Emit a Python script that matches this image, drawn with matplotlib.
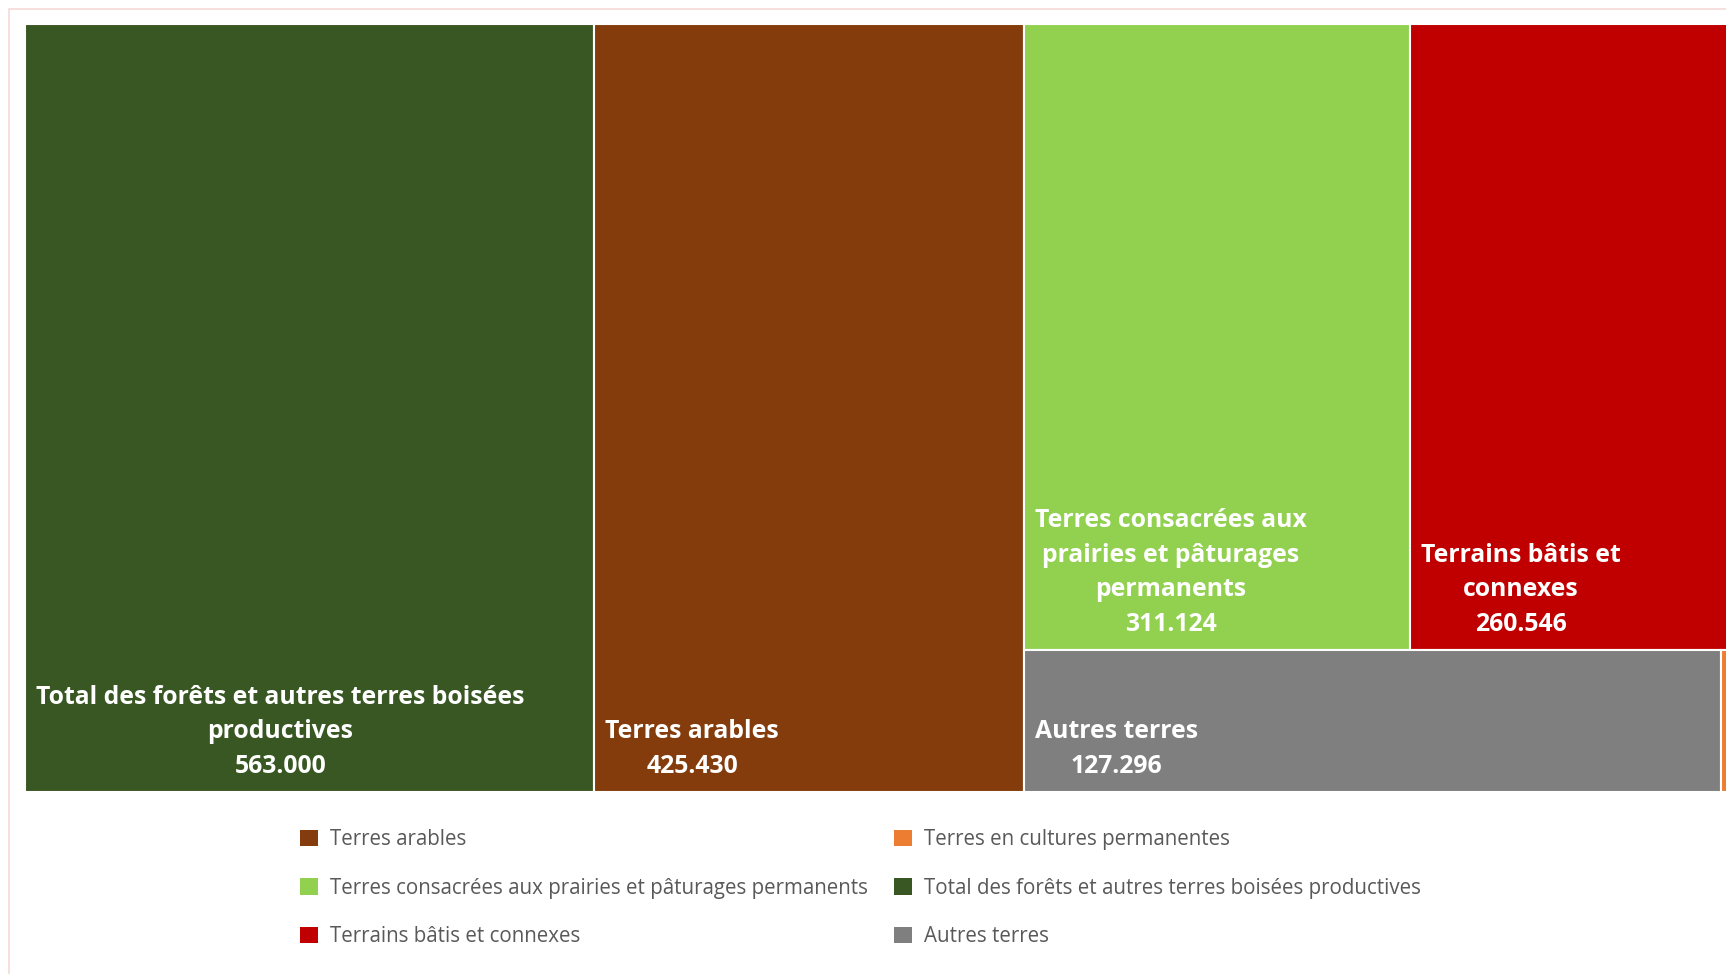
import matplotlib
matplotlib.use("Agg")
import matplotlib.pyplot as plt
from matplotlib.patches import Rectangle, Patch

# Land use categories (hectares)
categories = [
    "Total des forêts et autres terres boisées productives",
    "Terres arables",
    "Terres consacrées aux prairies et pâturages permanents",
    "Terrains bâtis et connexes",
    "Autres terres",
    "Terres en cultures permanentes",
]
values = [563000, 425430, 311124, 260546, 127296, 2200]
colors = ["#385723", "#843c0c", "#92d050", "#c00000", "#7f7f7f", "#ed7d31"]

# Wrapped labels shown inside the tiles
tile_labels = [
    "Total des forêts et autres terres boisées\nproductives",
    "Terres arables",
    "Terres consacrées aux\nprairies et pâturages\npermanents",
    "Terrains bâtis et\nconnexes",
    "Autres terres",
    "",
]

# Legend order (two columns, filled top-down)
legend_order = [
    "Terres arables",
    "Terres consacrées aux prairies et pâturages permanents",
    "Terrains bâtis et connexes",
    "Terres en cultures permanentes",
    "Total des forêts et autres terres boisées productives",
    "Autres terres",
]


# ---- squarified treemap layout ----
def _normalize(sizes, dx, dy):
    total = float(sum(sizes))
    return [s * dx * dy / total for s in sizes]


def _layoutrow(sizes, x, y, dx, dy):
    width = sum(sizes) / dy
    rects = []
    for s in sizes:
        rects.append((x, y, width, s / width))
        y += s / width
    return rects


def _layoutcol(sizes, x, y, dx, dy):
    height = sum(sizes) / dx
    rects = []
    for s in sizes:
        rects.append((x, y, s / height, height))
        x += s / height
    return rects


def _layout(sizes, x, y, dx, dy):
    return _layoutrow(sizes, x, y, dx, dy) if dx >= dy else _layoutcol(sizes, x, y, dx, dy)


def _leftover(sizes, x, y, dx, dy):
    covered = sum(sizes)
    if dx >= dy:
        w = covered / dy
        return x + w, y, dx - w, dy
    h = covered / dx
    return x, y + h, dx, dy - h


def _worst(sizes, x, y, dx, dy):
    return max(max(w / h, h / w) for (_, _, w, h) in _layout(sizes, x, y, dx, dy))


def squarify(sizes, x, y, dx, dy):
    if not sizes:
        return []
    if len(sizes) == 1:
        return _layout(sizes, x, y, dx, dy)
    i = 1
    while i < len(sizes) and _worst(sizes[:i], x, y, dx, dy) >= _worst(sizes[:i + 1], x, y, dx, dy):
        i += 1
    current, remaining = sizes[:i], sizes[i:]
    return _layout(current, x, y, dx, dy) + squarify(remaining, *_leftover(current, x, y, dx, dy))


W, H = 1726, 974
fig = plt.figure(figsize=(W / 100, H / 100), dpi=100)
fig.patch.set_facecolor("white")

# thin outer frame
fig.add_artist(Rectangle((9 / W, -0.05), 1.2, 1 - 9 / H + 0.05, transform=fig.transFigure,
                         fill=False, edgecolor="#f6d9d9", linewidth=1.2))

box_w, box_h = 1708.0, 768.0
ax = fig.add_axes([25 / W, (H - 792) / H, box_w / W, box_h / H])
ax.set_xlim(0, box_w)
ax.set_ylim(box_h, 0)
ax.axis("off")

rects = squarify(_normalize(values, box_w, box_h), 0, 0, box_w, box_h)

label_font = dict(family=["Open Sans", "DejaVu Sans"], weight="bold", size=17.8, color="white")
for (x, y, w, h), v, c, lab in zip(rects, values, colors, tile_labels):
    ax.add_patch(Rectangle((x, y), w, h, facecolor=c, edgecolor="white", linewidth=1.5))
    if lab:
        txt = f"{lab}\n{v:,}".replace(",", ".")
        ax.text(x + 11, y + h - 13, txt, ha="left", va="bottom", multialignment="center",
                linespacing=1.51, **label_font)

handles = [Patch(facecolor=colors[categories.index(n)], edgecolor="none") for n in legend_order]
fig.legend(handles, legend_order, loc="upper left", bbox_to_anchor=(290 / W, 1 - 819 / H),
           ncol=2, frameon=False, borderpad=0, handlelength=0.86, handleheight=0.86,
           handletextpad=0.58, labelspacing=1.33, columnspacing=1.3,
           prop=dict(family=["Open Sans", "DejaVu Sans"], size=14.8), labelcolor="#595959")

fig.savefig("out.png", dpi=100, facecolor="white")
